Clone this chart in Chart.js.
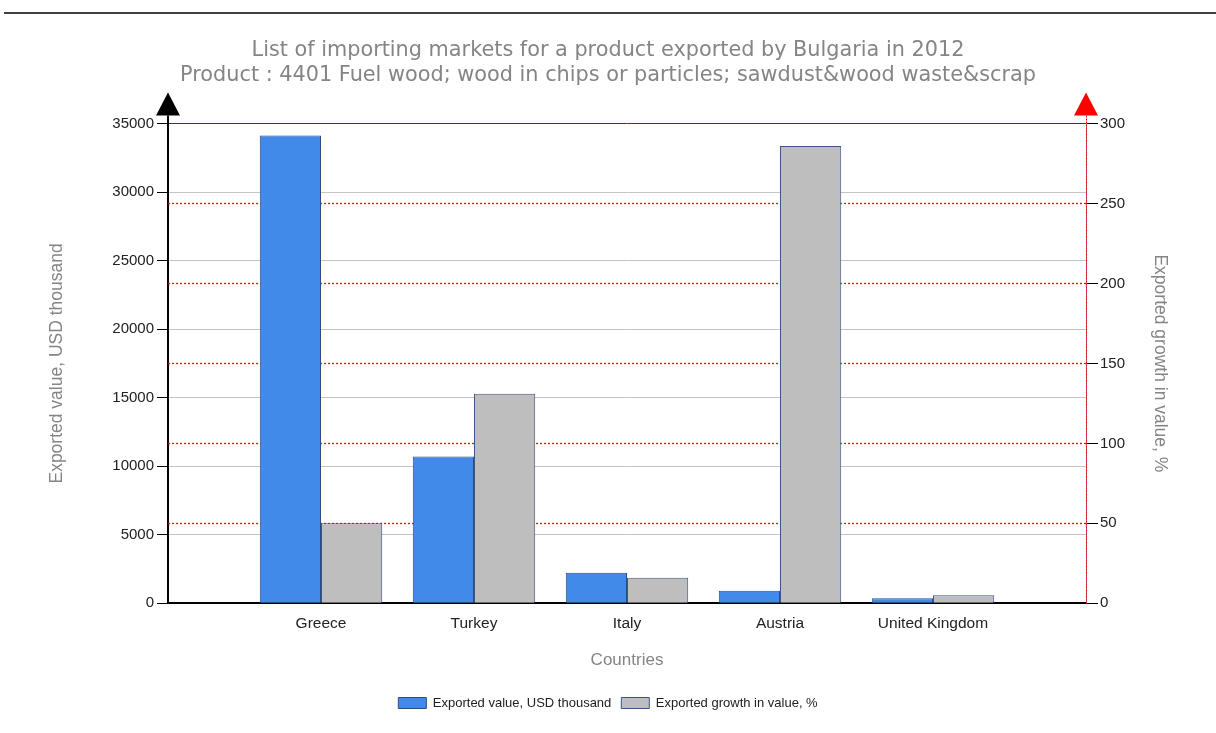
<!DOCTYPE html>
<html>
<head>
<meta charset="utf-8">
<script src="https://cdn.jsdelivr.net/npm/chart.js@4.4.0/dist/chart.umd.min.js"></script>
<style>
  html, body { margin:0; padding:0; background:#fff; }
  #wrap { position:relative; width:1216px; height:733px; }
  #c { position:absolute; left:0; top:0; }
</style>
</head>
<body>
<div id="wrap"><canvas id="c" width="1216" height="733"></canvas></div>
<script>
const countries = ['Greece','Turkey','Italy','Austria','United Kingdom'];
const exportedValue = [34120, 10700, 2230, 920, 365];   // USD thousand
const exportedGrowth = [50, 131, 16, 286, 5];           // %
const titleLines = [
  'List of importing markets for a product exported by Bulgaria in 2012',
  'Product : 4401 Fuel wood; wood in chips or particles; sawdust&wood waste&scrap'
];
const VALUE_MAX = 35000, VALUE_STEP = 5000;
const GROWTH_MAX = 300, GROWTH_STEP = 50;

// empty slot on each side, like the original axis
const labels = ['', ...countries, ''];
const pad = arr => [null, ...arr, null];

const AXIS_FONT = 'Liberation Sans, Arial, sans-serif';
const TITLE_GREY = '#858585';

// red dotted grid of the % axis, drawn under the bars
const growthGrid = {
  id: 'growthGrid',
  beforeDatasetsDraw(chart) {
    const { ctx, chartArea: a } = chart;
    const s = chart.scales.y1;
    ctx.save();
    ctx.strokeStyle = 'rgb(255,0,0)'; ctx.lineWidth = 1.3; ctx.setLineDash([2, 2]);
    s.ticks.forEach(t => {
      if (t.value <= 0 || t.value >= GROWTH_MAX) return;
      const y = Math.round(s.getPixelForValue(t.value)) + 0.5;
      ctx.beginPath(); ctx.moveTo(a.left, y); ctx.lineTo(a.right, y); ctx.stroke();
    });
    ctx.restore();
  }
};

const extras = {
  id: 'extras',
  afterDraw(chart) {
    const { ctx, chartArea: a } = chart;
    ctx.save();
    // rule at the very top of the page
    ctx.strokeStyle = '#000'; ctx.lineWidth = 1.5;
    ctx.beginPath(); ctx.moveTo(4, 13); ctx.lineTo(1216, 13); ctx.stroke();
    // left axis runs up into the arrow
    ctx.lineWidth = 2;
    ctx.beginPath(); ctx.moveTo(a.left, a.top - 8); ctx.lineTo(a.left, a.top); ctx.stroke();
    // red dotted right axis
    ctx.strokeStyle = '#f00'; ctx.lineWidth = 1; ctx.setLineDash([2, 1]);
    ctx.beginPath(); ctx.moveTo(a.right + 0.5, a.top - 8); ctx.lineTo(a.right + 0.5, a.bottom); ctx.stroke();
    ctx.setLineDash([]);
    // arrow heads
    const tri = (x, col) => {
      ctx.fillStyle = col;
      ctx.beginPath(); ctx.moveTo(x, a.top - 31); ctx.lineTo(x - 12, a.top - 8); ctx.lineTo(x + 12, a.top - 8);
      ctx.closePath(); ctx.fill();
    };
    tri(a.left, '#000');
    tri(a.right, '#f00');
    ctx.restore();
  }
};

new Chart(document.getElementById('c'), {
  type: 'bar',
  data: {
    labels,
    datasets: [
      { label:'Exported value, USD thousand', data:pad(exportedValue), yAxisID:'y',
        backgroundColor:'#418AEA', borderColor:'#2E4C7F', borderWidth:1 },
      { label:'Exported growth in value, %', data:pad(exportedGrowth), yAxisID:'y1',
        backgroundColor:'#BEBEBE', borderColor:'#3E5680', borderWidth:1 }
    ]
  },
  options: {
    responsive:false, animation:false, devicePixelRatio:1,
    categoryPercentage:0.8, barPercentage:1,
    layout:{ padding:{ top:0, left:0, right:0, bottom:13.5 } },
    plugins:{
      tooltip:{ enabled:false },
      title:{ display:true, text:titleLines, color:TITLE_GREY,
        font:{ family:'DejaVu Sans, sans-serif', size:20.8, weight:'normal', lineHeight:25/20.8 },
        padding:{ top:38, bottom:35.5 } },
      legend:{ position:'bottom',
        labels:{ boxWidth:28, boxHeight:11, padding:10, color:'#222',
          font:{ family:AXIS_FONT, size:13 } } }
    },
    scales:{
      x:{
        offset:false,
        grid:{ display:false, drawTicks:false },
        border:{ display:true, color:'#000', width:2 },
        ticks:{ autoSkip:false, maxRotation:0, padding:11, color:'#222', font:{ family:AXIS_FONT, size:15.5 } },
        title:{ display:true, text:'Countries', color:TITLE_GREY, font:{ family:AXIS_FONT, size:17 }, padding:{ top:0, bottom:16.3 } },
        afterFit: s => { s.height = 83.2; }
      },
      y:{
        position:'left', min:0, max:VALUE_MAX,
        ticks:{ stepSize:VALUE_STEP, padding:3, color:'#222', font:{ family:AXIS_FONT, size:15 }, callback: v => String(v) },
        grid:{ tickLength:11, tickColor:'#000',
          color: c => c.tick && c.tick.value === VALUE_MAX ? '#1F3D73' : (c.tick && c.tick.value === 0 ? 'transparent' : '#C4C4C4') },
        border:{ color:'#000', width:2 },
        title:{ display:true, text:'Exported value, USD thousand', color:TITLE_GREY, font:{ family:AXIS_FONT, size:17.5 }, padding:{ top:46.5, bottom:0 } },
        afterFit: s => { s.width = 168; }
      },
      y1:{
        position:'right', min:0, max:GROWTH_MAX,
        ticks:{ stepSize:GROWTH_STEP, padding:2, color:'#222', font:{ family:AXIS_FONT, size:15 } },
        grid:{ drawOnChartArea:false, tickLength:12, tickColor:'#000' },
        border:{ color:'rgba(80,90,160,0.7)', width:1 },
        title:{ display:true, text:'Exported growth in value, %', color:TITLE_GREY, font:{ family:AXIS_FONT, size:17.5 }, padding:{ top:45.5, bottom:0 } },
        afterFit: s => { s.width = 130; }
      }
    }
  },
  plugins:[growthGrid, extras]
});
</script>
</body>
</html>
